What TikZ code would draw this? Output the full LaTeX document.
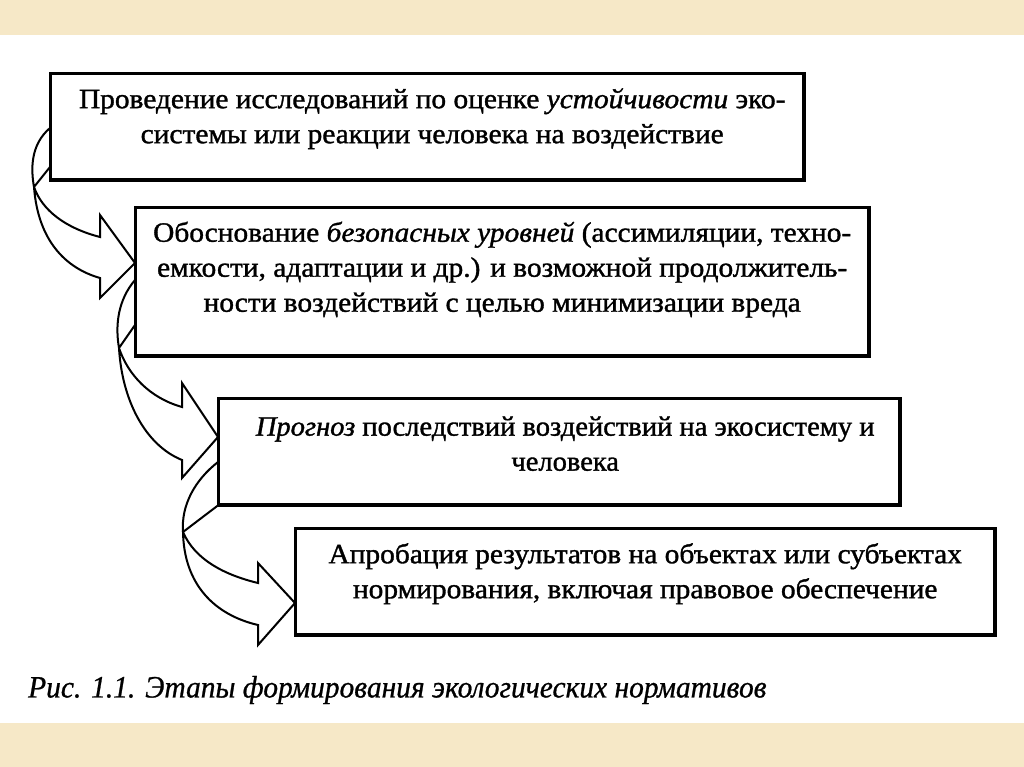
\documentclass[tikz,border=0pt]{standalone}
\usepackage{fontspec}
\setmainfont{Liberation Serif}[FakeBold=1.2]
\newfontfamily\capfont{Liberation Serif}[FakeBold=0.8]
\usetikzlibrary{calc}
\definecolor{beige}{RGB}{246,232,199}
\tikzset{
  boxshape/.style={draw=black, line width=2.4pt, fill=white, inner sep=0pt, anchor=north west},
  boxtext/.style={align=center, font=\fontsize{28}{35}\selectfont, inner sep=0pt, xscale=1.05, transform shape},
  ribbon/.style={draw=black, line width=2pt, fill=white, line join=miter},
}
\begin{document}
\begin{tikzpicture}[x=1pt,y=-1pt]
\useasboundingbox (0,0) rectangle (1024,767);
\fill[beige] (0,0) rectangle (1024,767);
\fill[white] (0,35) rectangle (1024,723);

% boxes
\node[boxshape, minimum width=752pt, minimum height=105pt] (b1) at (50,73) {};
\node[boxshape, minimum width=732pt, minimum height=147pt] (b2) at (135,207) {};
\node[boxshape, minimum width=680pt, minimum height=105pt] (b3) at (218,398) {};
\node[boxshape, minimum width=698pt, minimum height=105pt] (b4) at (295,528) {};

% arrows
\coordinate (a1s) at ($(b1.north west)+(0,55)$);
\coordinate (a1i) at ($(b1.north west)+(0,94)$);
\coordinate (a1t) at ($(b2.north west)+(0,56)$);
\draw[ribbon] (a1s) .. controls (30,145) and (31,170) .. (34,187)
  .. controls (38,240) and (65,268) .. (100,278)
  -- (100,298) -- (a1t) -- (100,215) -- (100,237)
  .. controls (65,228) and (42,210) .. (34,187) -- (a1i);

\coordinate (a2s) at ($(b2.north west)+(0,73)$);
\coordinate (a2i) at ($(b2.north west)+(0,118)$);
\coordinate (a2t) at ($(b3.north west)+(0,39)$);
\draw[ribbon] (a2s) .. controls (118,300) and (115,325) .. (119,348)
  .. controls (122,400) and (145,445) .. (182,460)
  -- (182,478) -- (a2t) -- (182,383) -- (182,407)
  .. controls (150,398) and (128,375) .. (119,348) -- (a2i);

\coordinate (a3s) at ($(b3.north west)+(0,64)$);
\coordinate (a3i) at (b3.south west);
\coordinate (a3t) at ($(b4.north west)+(0,75)$);
\draw[ribbon] (a3s) .. controls (195,480) and (181,505) .. (183,532)
  .. controls (184,585) and (215,615) .. (258,625)
  -- (258,645) -- (a3t) -- (258,563) -- (258,583)
  .. controls (225,575) and (195,560) .. (183,532) -- (a3i);

% redraw box borders on top
\draw[line width=2.4pt] (b1.north west) rectangle (b1.south east);
\draw[line width=2.4pt] (b2.north west) rectangle (b2.south east);
\draw[line width=2.4pt] (b3.north west) rectangle (b3.south east);
\draw[line width=2.4pt] (b4.north west) rectangle (b4.south east);

% texts
\node[boxtext] (t1) at ($(b1.center)+(5,-8)$) {Проведение исследований по оценке \textit{устойчивости} эко-\\системы или реакции человека на воздействие};
\node[boxtext] (t2) at ($(b2.center)+(0,-12)$) {Обоснование \textit{безопасных уровней} (ассимиляции, техно-\\емкости, адаптации и др.) и возможной продолжитель-\\ности воздействий с целью минимизации вреда};
\node[boxtext, xscale=0.97] (t3) at ($(b3.center)+(6,-8)$) {\textit{Прогноз} последствий воздействий на экосистему и\\человека};
\node[boxtext] (t4) at ($(b4.center)+(0,-8)$) {Апробация результатов на объектах или субъектах\\нормирования, включая правовое обеспечение};

% caption
\node[anchor=west, inner sep=0pt, font=\capfont\itshape\fontsize{31}{34}\selectfont] (cap) at (28,690) {\scalebox{0.95}[1]{Рис. 1.1. Этапы формирования экологических нормативов}};
\end{tikzpicture}
\end{document}
